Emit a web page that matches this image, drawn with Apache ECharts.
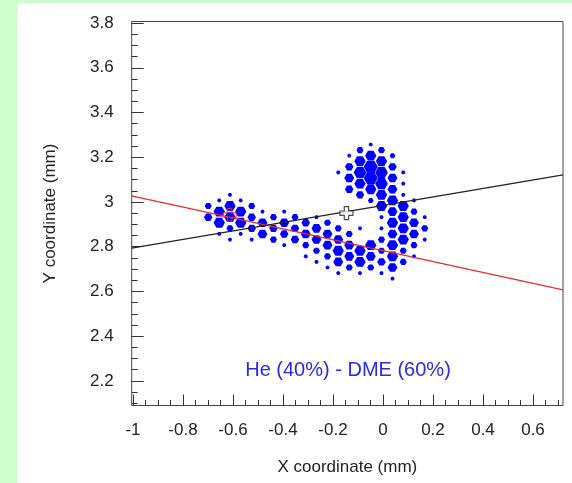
<!DOCTYPE html>
<html><head><meta charset="utf-8">
<script src="https://cdn.jsdelivr.net/npm/echarts@6/dist/echarts.min.js"></script>
<style>
html,body{margin:0;padding:0;width:572px;height:483px;background:#ccffcc;overflow:hidden;}
#chart{position:absolute;left:17px;top:3px;width:555px;height:480px;background:#ffffff;}
</style></head><body><div id="chart"></div>
<script>
// Axis ticks
const xMajorTicks = [-1, -0.8, -0.6, -0.4, -0.2, 0, 0.2, 0.4, 0.6];
const xMinorTicks = [-1,-0.95,-0.9,-0.85,-0.8,-0.75,-0.7,-0.65,-0.6,-0.55,-0.5,-0.45,-0.4,-0.35,-0.3,-0.25,-0.2,-0.15,-0.1,-0.05,0,0.05,0.1,0.15,0.2,0.25,0.3,0.35,0.4,0.45,0.5,0.55,0.6,0.65,0.7];
const yMajorTicks = [2.2, 2.4, 2.6, 2.8, 3, 3.2, 3.4, 3.6, 3.8];
const yMinorTicks = [2.1,2.15,2.2,2.25,2.3,2.35,2.4,2.45,2.5,2.55,2.6,2.65,2.7,2.75,2.8,2.85,2.9,2.95,3,3.05,3.1,3.15,3.2,3.25,3.3,3.35,3.4,3.45,3.5,3.55,3.6,3.65,3.7,3.75,3.8];

// Hexagonal pixel hits: x (mm), y (mm), charge (arb. units)
const hexX = [
 -0.699,-0.699,
 -0.655,-0.655,-0.655,-0.655,
 -0.612,-0.612,-0.612,-0.612,-0.612,
 -0.569,-0.569,-0.569,-0.569,
 -0.525,-0.525,-0.525,-0.525,
 -0.482,-0.482,-0.482,
 -0.438,-0.438,-0.438,
 -0.395,-0.395,-0.395,-0.395,
 -0.352,-0.352,-0.352,
 -0.309,-0.309,-0.309,-0.309,
 -0.266,-0.266,-0.266,-0.266,-0.266,
 -0.222,-0.222,-0.222,-0.222,-0.222,
 -0.179,-0.179,-0.179,-0.179,-0.179,
 -0.135,-0.135,-0.135,-0.135,
 -0.092,-0.092,-0.092,-0.092,
 -0.049,-0.049,-0.049,
 -0.006,-0.006,-0.006,-0.006,-0.006,-0.006,
 0.038,0.038,0.038,0.038,0.038,0.038,
 0.081,0.081,0.081,0.081,0.081,
 0.124,0.124,0.124,0.124,0.124,0.124,
 0.167,0.167,0.167,
 -0.179,
 -0.135,-0.135,-0.135,-0.135,
 -0.092,-0.092,-0.092,-0.092,-0.092,
 -0.049,-0.049,-0.049,-0.049,-0.049,-0.049,
 -0.006,-0.006,-0.006,-0.006,-0.006,-0.006,
 0.038,0.038,0.038,0.038,0.038,0.038,
 0.081,0.081,0.081,0.081
];
const hexY = [
 2.982,2.932,
 3.007,2.957,2.907,2.857,
 3.032,2.982,2.932,2.882,2.832,
 3.007,2.957,2.907,2.857,
 2.982,2.932,2.882,2.832,
 2.957,2.907,2.857,
 2.932,2.882,2.832,
 2.957,2.907,2.857,2.807,
 2.932,2.882,2.832,
 2.907,2.857,2.807,2.757,
 2.932,2.882,2.832,2.782,2.732,
 2.907,2.857,2.807,2.757,2.707,
 2.882,2.832,2.782,2.732,2.682,
 2.857,2.807,2.757,2.707,
 2.882,2.782,2.732,2.682,
 2.807,2.757,2.707,
 2.932,2.882,2.832,2.782,2.732,2.682,
 2.907,2.857,2.807,2.757,2.707,2.657,
 2.932,2.882,2.832,2.782,2.732,
 3.007,2.957,2.907,2.857,2.807,2.757,
 2.932,2.882,2.832,
 3.132,
 3.207,3.157,3.107,3.057,
 3.232,3.182,3.132,3.082,3.032,
 3.257,3.207,3.157,3.107,3.057,3.007,
 3.232,3.182,3.132,3.082,3.032,2.982,
 3.207,3.157,3.107,3.057,3.007,2.957,
 3.132,3.082,3.032,2.982
];
const hexQ = [
 5,6,
 3,8,8,3,
 3,8,8,5,3,
 3,8,8,3,
 5,6,6,3,
 3,7,7,
 5,6,5,
 3,7,6,3,
 5,6,6,
 6,7,5,3,
 3,7,7,5,3,
 5,7,7,5,3,
 5,7,8,7,3,
 5,7,7,5,
 3,8,8,3,
 8,7,5,
 3,3,5,5,6,3,
 8,7,8,8,7,3,
 8,8,8,5,5,
 3,5,7,7,5,3,
 3,5,3,
 3,
 3,6,7,6,
 5,8,9,8,6,
 3,8,10,10,8,4,
 5,8,9,9,8,8,
 4,6,7,7,8,7,
 3,3,3,8
];

// Fitted track lines (endpoints, mm)
const redLineX = [-1.005, 0.72];
const redLineY = [3.027, 2.607];
const blackLineX = [-1.005, 0.72];
const blackLineY = [2.794, 3.121];

// Reconstructed impact points
const redPoint = [-0.613, 2.942];
const blackPoint = [-0.146, 2.950];

const labelText = 'He (40%) - DME (60%)';

const FONT = 'Liberation Sans, Arial, Helvetica, sans-serif';
const hexPath = 'path://M-1,0 L-0.5,-0.866 L0.5,-0.866 L1,0 L0.5,0.866 L-0.5,0.866 Z';
const crossPath = 'path://M-1,-3 L1,-3 L1,-1 L3,-1 L3,1 L1,1 L1,3 L-1,3 L-1,1 L-3,1 L-3,-1 L-1,-1 Z';

const hexData = hexX.map((x, i) => [x, hexY[i], hexQ[i]]);

const chart = echarts.init(document.getElementById('chart'), null, {renderer: 'canvas'});
chart.setOption({
  animation: false,
  backgroundColor: '#ffffff',
  grid: {left: 114.7, top: 18.5, right: 9, bottom: 77.5, show: true, borderColor: '#444', borderWidth: 1, backgroundColor: 'transparent'},
  xAxis: [
    {type: 'value', min: -1.005, max: 0.72, position: 'bottom',
     axisLine: {show: false, onZero: false}, splitLine: {show: false},
     axisTick: {inside: true, length: 11, customValues: xMajorTicks, lineStyle: {color: '#333', width: 1}},
     axisLabel: {customValues: xMajorTicks, margin: 16, fontSize: 17, color: '#222', fontFamily: FONT},
     name: 'X coordinate (mm)', nameLocation: 'middle', nameGap: 53,
     nameTextStyle: {fontSize: 17, color: '#222', fontFamily: FONT}},
    {type: 'value', min: -1.005, max: 0.72, position: 'bottom',
     axisLine: {show: false, onZero: false}, splitLine: {show: false}, axisLabel: {show: false},
     axisTick: {inside: true, length: 5.5, customValues: xMinorTicks, lineStyle: {color: '#333', width: 1}}}
  ],
  yAxis: [
    {type: 'value', min: 2.09, max: 3.807, position: 'left',
     axisLine: {show: false, onZero: false}, splitLine: {show: false},
     axisTick: {inside: true, length: 12, customValues: yMajorTicks, lineStyle: {color: '#333', width: 1}},
     axisLabel: {customValues: yMajorTicks, margin: 18, fontSize: 17, color: '#222', fontFamily: FONT},
     name: 'Y coordinate (mm)', nameLocation: 'middle', nameGap: 73, nameRotate: 90,
     nameTextStyle: {fontSize: 17, color: '#222', fontFamily: FONT}},
    {type: 'value', min: 2.09, max: 3.807, position: 'left',
     axisLine: {show: false, onZero: false}, splitLine: {show: false}, axisLabel: {show: false},
     axisTick: {inside: true, length: 6, customValues: yMinorTicks, lineStyle: {color: '#333', width: 1}}}
  ],
  series: [
    {type: 'scatter', data: hexData, symbol: hexPath, symbolKeepAspect: true,
     symbolSize: v => v[2] * 1.42, itemStyle: {color: '#0000ff', opacity: 1}, z: 2},
    {type: 'line', data: redLineX.map((x, i) => [x, redLineY[i]]), symbol: 'none',
     lineStyle: {color: '#ee2a2a', width: 1.2}, z: 3},
    {type: 'line', data: blackLineX.map((x, i) => [x, blackLineY[i]]), symbol: 'none',
     lineStyle: {color: '#222222', width: 1.2}, z: 3},
    {type: 'scatter', data: [redPoint], symbol: crossPath, symbolSize: 13,
     itemStyle: {color: 'rgba(255,255,255,0)', borderColor: '#ee2a2a', borderWidth: 1.2}, z: 4},
    {type: 'scatter', data: [blackPoint], symbol: crossPath, symbolSize: 13,
     itemStyle: {color: '#ffffff', borderColor: '#222222', borderWidth: 1.2}, z: 4}
  ],
  graphic: [
    {type: 'text', x: 331, y: 367, z: 10,
     style: {text: labelText, fill: '#2a2ae0', fontSize: 20, fontFamily: FONT,
             align: 'center', verticalAlign: 'middle', textAlign: 'center', textVerticalAlign: 'middle'}}
  ]
});
</script></body></html>
